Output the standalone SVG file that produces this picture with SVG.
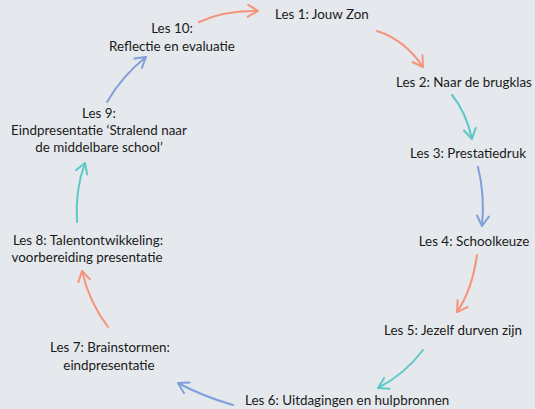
<svg xmlns="http://www.w3.org/2000/svg" width="535" height="409" viewBox="0 0 535 409">
<style>
text{font-family:"Lato","Open Sans","Liberation Sans",sans-serif;font-size:13.4px;fill:#1a1a1a}
.c{fill:none;stroke-width:2;stroke-linecap:round}
.o{stroke:#f5937b}.t{stroke:#5ec8c8}.b{stroke:#7fa0da}
</style>
<defs>
<marker id="mo" markerUnits="userSpaceOnUse" viewBox="-12 -7 14 14" markerWidth="14" markerHeight="14" refX="0" refY="0" orient="auto"><path d="M-10,-6 L0,0 L-10,6" fill="none" stroke="#f5937b" stroke-width="2" stroke-linecap="round" stroke-linejoin="round"/></marker>
<marker id="mt" markerUnits="userSpaceOnUse" viewBox="-12 -7 14 14" markerWidth="14" markerHeight="14" refX="0" refY="0" orient="auto"><path d="M-10,-6 L0,0 L-10,6" fill="none" stroke="#5ec8c8" stroke-width="2" stroke-linecap="round" stroke-linejoin="round"/></marker>
<marker id="mb" markerUnits="userSpaceOnUse" viewBox="-12 -7 14 14" markerWidth="14" markerHeight="14" refX="0" refY="0" orient="auto"><path d="M-10,-6 L0,0 L-10,6" fill="none" stroke="#7fa0da" stroke-width="2" stroke-linecap="round" stroke-linejoin="round"/></marker>
</defs>
<rect width="535" height="409" fill="#e5e9ed"/>
<g id="connectors">
<path class="c o" d="M199,22 Q225,10 258,11" marker-end="url(#mo)"/>
<path class="c o" d="M377,31 Q405,40 423,67" marker-end="url(#mo)"/>
<path class="c t" d="M452,95 Q466,112 472,139" marker-end="url(#mt)"/>
<path class="c b" d="M478,167 Q485,195 482,226" marker-end="url(#mb)"/>
<path class="c o" d="M477,255 Q472,290 457,312" marker-end="url(#mo)"/>
<path class="c t" d="M423,350 Q405,374 378,388" marker-end="url(#mt)"/>
<path class="c b" d="M233,405 Q202,396 178,383" marker-end="url(#mb)"/>
<path class="c o" d="M108,327 Q89,302 82,271" marker-end="url(#mo)"/>
<path class="c t" d="M77,222 Q75,190 85,163" marker-end="url(#mt)"/>
<path class="c b" d="M107,102 Q122,76 146,57" marker-end="url(#mb)"/>
</g>
<g id="n1"><text x="275" y="19">Les 1: Jouw Zon</text></g>
<g id="n2"><text x="464" y="87" text-anchor="middle">Les 2: Naar de brugklas</text></g>
<g id="n3"><text x="468" y="158" text-anchor="middle">Les 3: Prestatiedruk</text></g>
<g id="n4"><text x="474" y="246" text-anchor="middle">Les 4: Schoolkeuze</text></g>
<g id="n5"><text x="453" y="335" text-anchor="middle">Les 5: Jezelf durven zijn</text></g>
<g id="n6"><text x="245" y="405">Les 6: Uitdagingen en hulpbronnen</text></g>
<g id="n7"><text x="110" y="352" text-anchor="middle">Les 7: Brainstormen:</text><text x="109" y="370" text-anchor="middle">eindpresentatie</text></g>
<g id="n8"><text x="88" y="245" text-anchor="middle">Les 8: Talentontwikkeling:</text><text x="87" y="262" text-anchor="middle">voorbereiding presentatie</text></g>
<g id="n9"><text x="99" y="118" text-anchor="middle">Les 9:</text><text x="99" y="135" text-anchor="middle">Eindpresentatie ‘Stralend naar</text><text x="99" y="152" text-anchor="middle">de middelbare school’</text></g>
<g id="n10"><text x="172" y="33" text-anchor="middle">Les 10:</text><text x="172" y="51" text-anchor="middle">Reflectie en evaluatie</text></g>
</svg>
